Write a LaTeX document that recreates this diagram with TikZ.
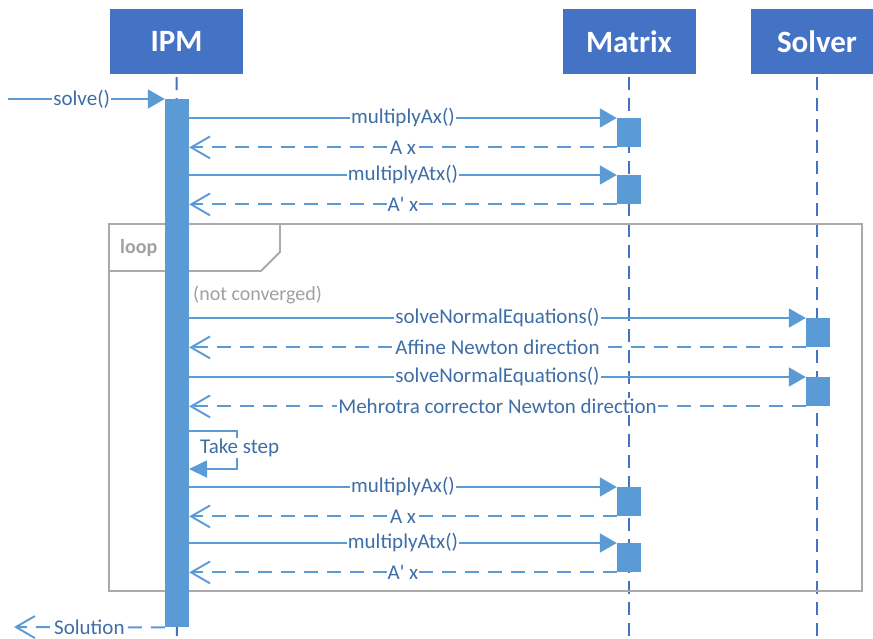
\documentclass[tikz,border=0pt]{standalone}
\usepackage{fontspec}
\setmainfont{Carlito}
\newfontfamily\msgfont{Carlito}
\usetikzlibrary{arrows.meta}
\definecolor{hdr}{RGB}{68,114,196}
\definecolor{bar}{RGB}{91,155,213}
\definecolor{txt}{RGB}{62,110,168}
\definecolor{frm}{RGB}{170,170,170}
\definecolor{frmtxt}{RGB}{160,160,160}
\tikzset{
  header/.style={draw=none,fill=hdr,text=white,font=\fontsize{31}{35}\selectfont\bfseries,minimum width=133pt,minimum height=65pt,inner sep=0pt},
  lifeline/.style={draw=hdr,line width=2pt,dash pattern=on 13pt off 8pt},
  actbox/.style={fill=bar,draw=none,minimum width=24pt,minimum height=29pt,inner sep=0pt},
  call/.style={draw=bar,line width=1.9pt,-{Triangle[length=17pt,width=19pt]}},
  ret/.style={draw=bar,line width=2.1pt,dash pattern=on 14pt off 9pt,-{Straight Barb[length=19pt,width=22pt,line width=1.9pt]}},
  msg/.style={fill=white,text=txt,font=\msgfont\fontsize{21}{25}\selectfont,inner sep=1pt},
  frame/.style={draw=frm,line width=1.8pt},
}
\begin{document}
\begin{tikzpicture}[x=1pt,y=-1pt]
\useasboundingbox (0,0) rectangle (873,638);
% headers
\node[header] (ipm) at (176.5,41.5) {IPM};
\node[header] (matrix) at (629,41.5) {Matrix};
\node[header] (solver) at (817,41.5) {Solver};
% lifelines
\coordinate (ipmend) at (177,640);
\coordinate (matend) at (629,640);
\coordinate (solend) at (817,640);
\draw[lifeline] (ipm.south) ++(0,3) -- (ipmend);
\draw[lifeline] (matrix.south) ++(0,3) -- (matend);
\draw[lifeline] (solver.south) ++(0,3) -- (solend);
% loop frame
\draw[frame] (109,224) rectangle (862,591);
\draw[frame] (109,271) -- (261,271) -- (280,252) -- (280,224);
\node[anchor=west,text=frmtxt,font=\fontsize{20}{23}\selectfont\bfseries,inner sep=0pt] (looplbl) at (120,248) {loop};
% activation bar IPM
\node[fill=bar,draw=none,minimum width=24pt,minimum height=528pt,inner sep=0pt,anchor=north] (ipmbar) at (177,99) {};
\node[anchor=west,text=frmtxt,font=\fontsize{20}{23}\selectfont,inner sep=0pt] (guard) at (193,295) {(not converged)};
% activation boxes
\node[actbox,anchor=north] (a1) at (629,118) {};
\node[actbox,anchor=north] (a2) at (629,175) {};
\node[actbox,anchor=north] (s1) at (818,318) {};
\node[actbox,anchor=north] (s2) at (818,377) {};
\node[actbox,anchor=north] (a3) at (629,487) {};
\node[actbox,anchor=north] (a4) at (629,543) {};
% solve
\coordinate (caller) at (8,99);
\coordinate (receiver) at (14,627);
\draw[call] (caller) -- (ipmbar.north west) node[msg,pos=0.47] {solve()};
% messages
\draw[call] (ipmbar.east |- a1.north) -- (a1.north west) node[msg,midway] {multiplyAx()};
\draw[ret] (a1.south west) -- (ipmbar.east |- a1.south) node[msg,midway] {A x};
\draw[call] (ipmbar.east |- a2.north) -- (a2.north west) node[msg,midway] {multiplyAtx()};
\draw[ret] (a2.south west) -- (ipmbar.east |- a2.south) node[msg,midway] {A' x};
\draw[call] (ipmbar.east |- s1.north) -- (s1.north west) node[msg,midway] {solveNormalEquations()};
\draw[ret] (s1.south west) -- (ipmbar.east |- s1.south) node[msg,midway] {Affine Newton direction};
\draw[call] (ipmbar.east |- s2.north) -- (s2.north west) node[msg,midway] {solveNormalEquations()};
\draw[ret] (s2.south west) -- (ipmbar.east |- s2.south) node[msg,midway] {Mehrotra corrector Newton direction};
% self message
\coordinate (selfA) at (189,431);
\coordinate (selfB) at (189,469);
\draw[draw=bar,line width=1.9pt,-{Triangle[length=18pt,width=17pt]}] (selfA) -| ++(48,38) -- (selfB);
\node[anchor=west,fill=white,text=txt,font=\msgfont\fontsize{21}{25}\selectfont,inner sep=1pt] (takestep) at (199,448) {Take step};
\draw[call] (ipmbar.east |- a3.north) -- (a3.north west) node[msg,midway] {multiplyAx()};
\draw[ret] (a3.south west) -- (ipmbar.east |- a3.south) node[msg,midway] {A x};
\draw[call] (ipmbar.east |- a4.north) -- (a4.north west) node[msg,midway] {multiplyAtx()};
\draw[ret] (a4.south west) -- (ipmbar.east |- a4.south) node[msg,midway] {A' x};
% solution
\draw[ret] (ipmbar.south west) -- (receiver) node[msg,midway] {Solution};
\end{tikzpicture}
\end{document}
